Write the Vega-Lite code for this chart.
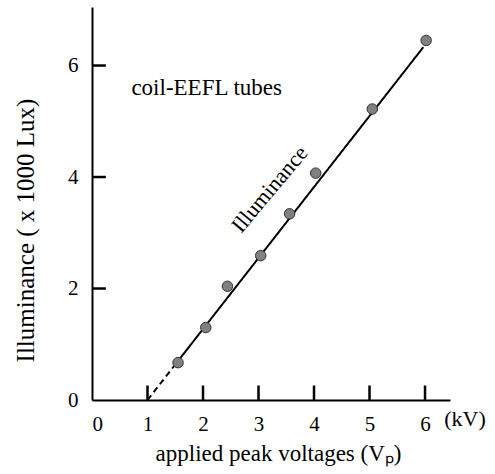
{
  "$schema": "https://vega.github.io/schema/vega-lite/v6.json",
  "autosize": "none",
  "padding": {"left": 92, "top": 7, "right": 45, "bottom": 74},
  "width": 358,
  "height": 393,
  "background": "white",
  "config": {
    "view": {"stroke": null},
    "font": "Liberation Serif",
    "axis": {
      "grid": false,
      "domainColor": "black",
      "domainWidth": 2,
      "ticks": false,
      "labelColor": "black",
      "titleFontWeight": "normal",
      "titleColor": "black"
    }
  },
  "datasets": {
    "points": [
      {"v": 1.55, "lux": 0.67},
      {"v": 2.05, "lux": 1.30},
      {"v": 2.44, "lux": 2.04},
      {"v": 3.04, "lux": 2.59},
      {"v": 3.56, "lux": 3.34},
      {"v": 4.03, "lux": 4.07},
      {"v": 5.05, "lux": 5.22},
      {"v": 6.02, "lux": 6.45}
    ],
    "fit": [
      {"v": 1.0, "lux": 0.0, "part": "dashed"},
      {"v": 1.55, "lux": 0.70, "part": "dashed"},
      {"v": 1.55, "lux": 0.70, "part": "solid"},
      {"v": 5.97, "lux": 6.33, "part": "solid"}
    ],
    "xticks": [
      {"v": 1, "lo": 0, "hi": 0.26},
      {"v": 2, "lo": 0, "hi": 0.26},
      {"v": 3, "lo": 0, "hi": 0.26},
      {"v": 4, "lo": 0, "hi": 0.26},
      {"v": 5, "lo": 0, "hi": 0.26},
      {"v": 6, "lo": 0, "hi": 0.26}
    ],
    "yticks": [
      {"lux": 2, "lo": 0, "hi": 0.25},
      {"lux": 4, "lo": 0, "hi": 0.25},
      {"lux": 6, "lo": 0, "hi": 0.25}
    ],
    "labels": [
      {"v": 0.71, "lux": 5.48, "text": "coil-EEFL tubes", "kind": "note"},
      {"v": 3.2, "lux": 3.78, "text": "Illuminance", "kind": "curve"},
      {"v": 6.72, "lux": 0, "text": "(kV)", "kind": "unit"}
    ]
  },
  "layer": [
    {
      "data": {"name": "fit"},
      "mark": {"type": "line", "color": "black", "strokeWidth": 2},
      "encoding": {
        "x": {
          "field": "v", "type": "quantitative",
          "scale": {"domain": [0, 6.45], "nice": false, "zero": false},
          "axis": {
            "values": [0, 1, 2, 3, 4, 5, 6],
            "format": "d",
            "labelPadding": 13,
            "labelFont": "Liberation Serif",
            "labelFontSize": 21,
            "title": "applied peak voltages   (Vₚ)",
            "titleFont": "Liberation Serif",
            "titleFontSize": 23,
            "titleX": 186,
            "titleY": 60,
            "titleBaseline": "alphabetic"
          }
        },
        "y": {
          "field": "lux", "type": "quantitative",
          "scale": {"domain": [0, 7.05], "nice": false},
          "axis": {
            "values": [0, 2, 4, 6],
            "format": "d",
            "labelPadding": 14,
            "labelFont": "Liberation Serif",
            "labelFontSize": 21,
            "title": "Illuminance  ( x 1000 Lux)",
            "titleFont": "Liberation Serif",
            "titleFontSize": 25,
            "titleX": -67,
            "titleY": 223,
            "titleAngle": -90,
            "titleAlign": "center",
            "titleBaseline": "middle"
          }
        },
        "strokeDash": {
          "field": "part", "type": "nominal",
          "scale": {"domain": ["solid", "dashed"], "range": [[1, 0], [6, 4]]},
          "legend": null
        }
      }
    },
    {
      "data": {"name": "xticks"},
      "mark": {"type": "rule", "color": "black", "strokeWidth": 2.5},
      "encoding": {
        "x": {"field": "v", "type": "quantitative"},
        "y": {"field": "lo", "type": "quantitative"},
        "y2": {"field": "hi"}
      }
    },
    {
      "data": {"name": "yticks"},
      "mark": {"type": "rule", "color": "black", "strokeWidth": 2.5},
      "encoding": {
        "y": {"field": "lux", "type": "quantitative"},
        "x": {"field": "lo", "type": "quantitative"},
        "x2": {"field": "hi"}
      }
    },
    {
      "data": {"name": "points"},
      "mark": {"type": "point", "shape": "circle", "filled": true, "size": 110, "fill": "#808080", "stroke": "#333333", "strokeWidth": 1, "opacity": 1},
      "encoding": {
        "x": {"field": "v", "type": "quantitative"},
        "y": {"field": "lux", "type": "quantitative"}
      }
    },
    {
      "data": {"name": "labels"},
      "transform": [{"filter": "datum.kind === 'note'"}],
      "mark": {"type": "text", "align": "left", "baseline": "alphabetic", "fontSize": 23, "font": "Liberation Serif", "color": "black"},
      "encoding": {
        "x": {"field": "v", "type": "quantitative"},
        "y": {"field": "lux", "type": "quantitative"},
        "text": {"field": "text"}
      }
    },
    {
      "data": {"name": "labels"},
      "transform": [{"filter": "datum.kind === 'curve'"}],
      "mark": {"type": "text", "align": "center", "baseline": "middle", "angle": -50, "fontSize": 22, "font": "Liberation Serif", "color": "black"},
      "encoding": {
        "x": {"field": "v", "type": "quantitative"},
        "y": {"field": "lux", "type": "quantitative"},
        "text": {"field": "text"}
      }
    },
    {
      "data": {"name": "labels"},
      "transform": [{"filter": "datum.kind === 'unit'"}],
      "mark": {"type": "text", "align": "center", "baseline": "alphabetic", "dy": 26, "fontSize": 22, "font": "Liberation Serif", "color": "black", "clip": false},
      "encoding": {
        "x": {"field": "v", "type": "quantitative"},
        "y": {"field": "lux", "type": "quantitative"},
        "text": {"field": "text"}
      }
    }
  ]
}
